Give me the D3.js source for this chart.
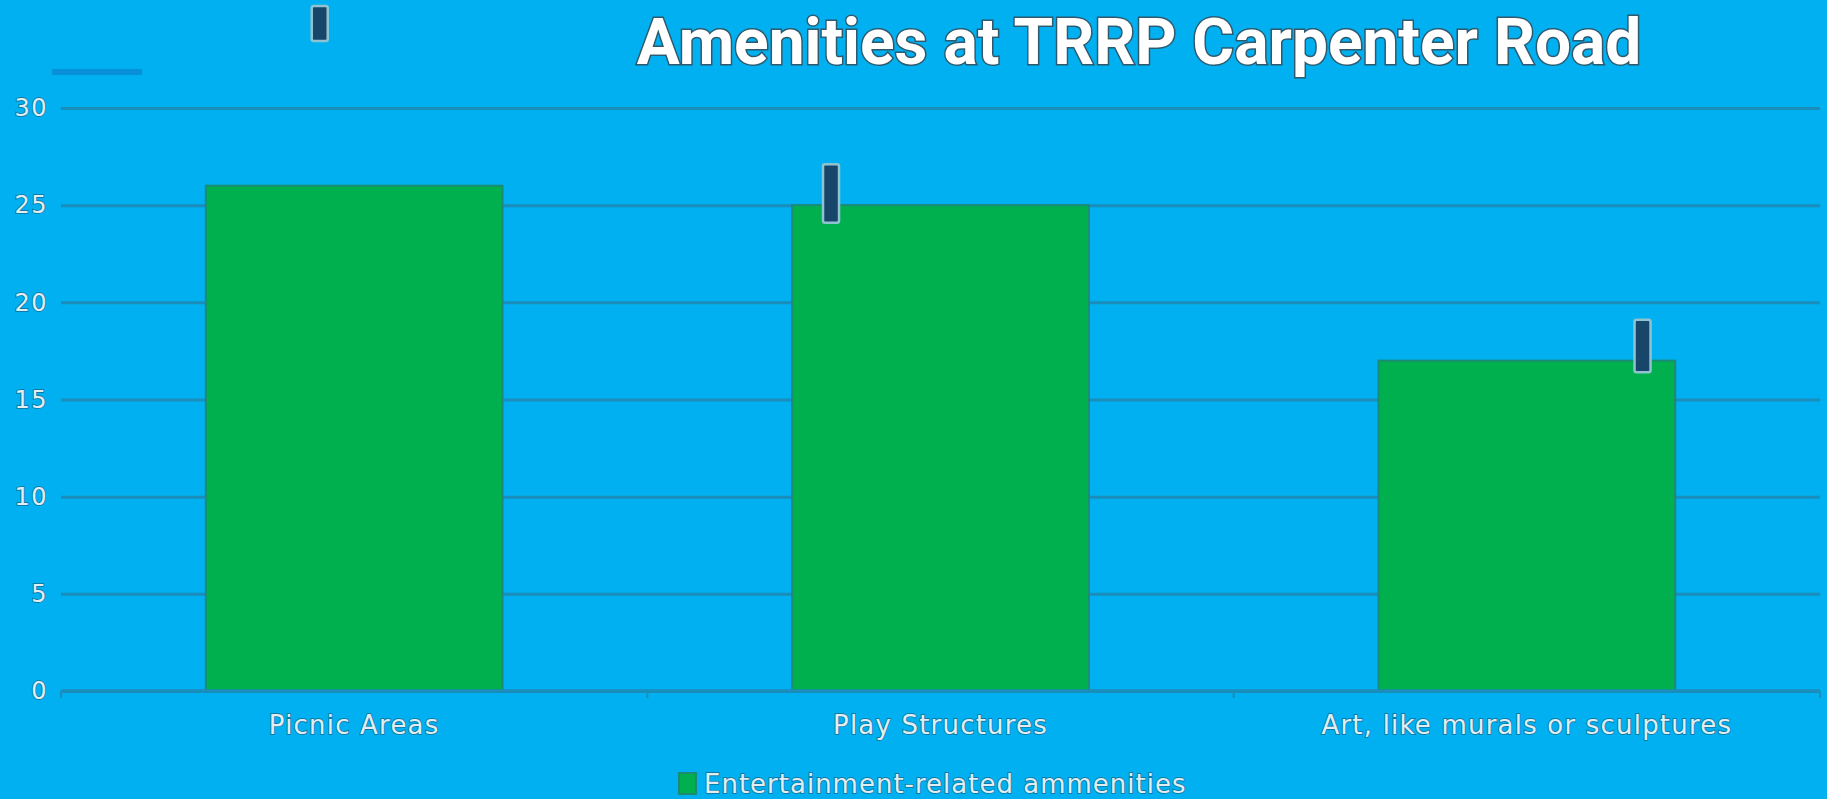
<!DOCTYPE html>
<html>
<head>
<meta charset="utf-8">
<script src="https://cdn.jsdelivr.net/npm/d3@7/dist/d3.min.js"></script>
<style>
  html, body { margin: 0; padding: 0; background: #00b0f0; overflow: hidden; }
  svg { display: block; }
</style>
</head>
<body>
<svg id="chart" width="1827" height="799"></svg>
<script>
// ---- data ----
const categories = ["Picnic Areas", "Play Structures", "Art, like murals or sculptures"];
const values = [26, 25, 17];
const seriesName = "Entertainment-related ammenities";
const yTicks = [0, 5, 10, 15, 20, 25, 30];
const titleText = "Amenities at TRRP Carpenter Road";
// dark marker strips: [category, low, high, relative position within bar]
const markers = [
  ["Picnic Areas", 33.45, 35.25, 0.384],
  ["Play Structures", 24.1, 27.1, 0.131],
  ["Art, like murals or sculptures", 16.4, 19.1, 0.89]
];

// ---- layout ----
const W = 1827, H = 799;
const plot = { left: 61, right: 1820, top: 108, bottom: 691 };
const svg = d3.select("#chart");

svg.append("rect").attr("width", W).attr("height", H).attr("fill", "#00b0f0");

const x = d3.scaleBand().domain(categories).range([plot.left, plot.right])
  .paddingInner(0.494).paddingOuter(0.247);
const y = d3.scaleLinear().domain([0, 30]).range([plot.bottom, plot.top]);

const labelFont = "'DejaVu Sans', sans-serif";
const gridColor = "#1a8dba";
const textFill = "#e2edf1";
const textHalo = "rgba(20,90,120,0.6)";

// gridlines
const grid = svg.append("g")
  .attr("transform", `translate(${plot.left},0)`)
  .call(d3.axisLeft(y).tickValues(yTicks).tickSize(-(plot.right - plot.left)).tickFormat(""));
grid.select(".domain").remove();
grid.selectAll(".tick line").attr("stroke", gridColor).attr("stroke-width", 3);

// y labels
const yAx = svg.append("g")
  .attr("transform", `translate(${plot.left},0)`)
  .call(d3.axisLeft(y).tickValues(yTicks).tickSize(0).tickPadding(13));
yAx.select(".domain").remove();
yAx.selectAll("text")
  .attr("font-family", labelFont).attr("font-size", 24)
  .attr("letter-spacing", 1.5)
  .attr("fill", textFill)
  .attr("stroke", textHalo).attr("stroke-width", 1.8)
  .attr("paint-order", "stroke");

// faint top-left legend stub line
svg.append("line")
  .attr("x1", 52).attr("x2", 142).attr("y1", 72).attr("y2", 72)
  .attr("stroke", "#0990da").attr("stroke-width", 6);

// bars
svg.append("g").selectAll("rect").data(categories).join("rect")
  .attr("x", d => x(d))
  .attr("width", x.bandwidth())
  .attr("y", (d, i) => y(values[i]))
  .attr("height", (d, i) => y(0) - y(values[i]))
  .attr("fill", "#00b04f")
  .attr("stroke", "#1a8c74").attr("stroke-width", 2);

// x axis
const step = x.step();
const boundaries = d3.range(categories.length + 1).map(i => plot.left + i * step);
svg.append("line")
  .attr("x1", plot.left).attr("x2", plot.right)
  .attr("y1", plot.bottom).attr("y2", plot.bottom)
  .attr("stroke", gridColor).attr("stroke-width", 3.5);
svg.append("g").selectAll("line").data(boundaries).join("line")
  .attr("x1", d => d).attr("x2", d => d)
  .attr("y1", plot.bottom).attr("y2", plot.bottom + 7)
  .attr("stroke", gridColor).attr("stroke-width", 2);

svg.append("g").selectAll("text").data(categories).join("text")
  .attr("x", d => x(d) + x.bandwidth() / 2)
  .attr("y", 734)
  .attr("text-anchor", "middle")
  .attr("font-family", labelFont).attr("font-size", 26)
  .attr("letter-spacing", 1.2)
  .attr("fill", textFill)
  .attr("stroke", textHalo).attr("stroke-width", 1.8)
  .attr("paint-order", "stroke")
  .text(d => d);

// markers
svg.append("g").selectAll("rect").data(markers).join("rect")
  .attr("x", d => x(d[0]) + d[3] * x.bandwidth() - 8)
  .attr("width", 16)
  .attr("y", d => y(d[2]))
  .attr("height", d => y(d[1]) - y(d[2]))
  .attr("rx", 2)
  .attr("fill", "#17466a")
  .attr("stroke", "#8fc3cf").attr("stroke-width", 2.5);

// title
svg.append("text")
  .attr("x", 1139).attr("y", 64)
  .attr("text-anchor", "middle")
  .attr("font-family", "Roboto, sans-serif").attr("font-weight", 700)
  .attr("font-size", 64)
  .attr("fill", "#ffffff")
  .attr("stroke", "#2d5a6e").attr("stroke-width", 3)
  .attr("paint-order", "stroke")
  .text(titleText);

// legend
const lg = svg.append("g");
lg.append("rect")
  .attr("x", 679).attr("y", 773).attr("width", 17).attr("height", 21)
  .attr("fill", "#00b04f").attr("stroke", "#1a8c74").attr("stroke-width", 2);
lg.append("text")
  .attr("x", 704).attr("y", 793)
  .attr("font-family", labelFont).attr("font-size", 26)
  .attr("letter-spacing", 1)
  .attr("fill", textFill)
  .attr("stroke", textHalo).attr("stroke-width", 1.8)
  .attr("paint-order", "stroke")
  .text(seriesName);
</script>
</body>
</html>
